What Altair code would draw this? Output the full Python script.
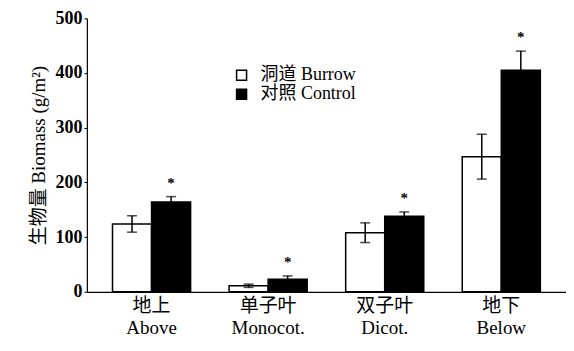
import altair as alt
import pandas as pd

categories = ["地上|Above", "单子叶|Monocot.", "双子叶|Dicot.", "地下|Below"]
series = ["洞道 Burrow", "对照 Control"]
burrow = [124, 11, 108, 247]
burrow_err = [15, 3, 18, 41]
control = [164, 23, 138, 405]
control_err = [10, 6, 8, 35]
significant = ["*", "*", "*", "*"]

rows = []
for i, c in enumerate(categories):
    rows.append({"cat": c, "grp": series[0], "v": burrow[i], "lo": burrow[i] - burrow_err[i],
                 "hi": burrow[i] + burrow_err[i], "sig": ""})
    rows.append({"cat": c, "grp": series[1], "v": control[i], "lo": control[i] - control_err[i],
                 "hi": control[i] + control_err[i], "sig": significant[i]})
df = pd.DataFrame(rows)

FONT = "Liberation Serif, Times New Roman, Noto Sans CJK SC"

x = alt.X("cat:N", sort=categories, title=None,
          scale=alt.Scale(paddingInner=0.33, paddingOuter=0.22),
          axis=alt.Axis(labelExpr="split(datum.label, '|')", labelAngle=0, ticks=False,
                        labelFont=FONT, labelFontSize=19, labelColor="black",
                        labelLineHeight=22, labelPadding=5, domainColor="black",
                        domainWidth=1.2))
xo = alt.XOffset("grp:N", sort=series, scale=alt.Scale(paddingInner=0, paddingOuter=0))
y = alt.Y("v:Q", title="生物量 Biomass (g/m²)",
          scale=alt.Scale(domain=[0, 500], nice=False),
          axis=alt.Axis(values=[0, 100, 200, 300, 400, 500], grid=False, tickSize=3,
                        tickColor="black", domainColor="black", domainWidth=1.2,
                        labelFont=FONT, labelFontSize=18, labelFontWeight="bold",
                        labelColor="black", labelPadding=2, titleFont=FONT,
                        titleFontSize=19, titleFontWeight="normal", titleColor="black",
                        titlePadding=6))

color = alt.Color("grp:N", sort=series,
                  scale=alt.Scale(domain=series, range=["white", "black"]),
                  legend=alt.Legend(title=None, orient="none", legendX=146, legendY=48,
                                    symbolType="square", symbolSize=100,
                                    symbolStrokeColor="black", symbolStrokeWidth=1.5,
                                    labelFont=FONT, labelFontSize=18, labelColor="black",
                                    rowPadding=1, labelOffset=10))

base = alt.Chart(df)
bars = base.mark_bar(stroke="black", strokeWidth=1.5).encode(x=x, xOffset=xo, y=y, color=color)
rules = base.mark_rule(color="black", strokeWidth=1.5).encode(
    x=alt.X("cat:N", sort=categories), xOffset=xo, y="lo:Q", y2="hi:Q")
cap_hi = base.mark_tick(color="black", thickness=1.5, size=10).encode(
    x=alt.X("cat:N", sort=categories), xOffset=xo, y="hi:Q")
cap_lo = base.mark_tick(color="black", thickness=1.5, size=10).encode(
    x=alt.X("cat:N", sort=categories), xOffset=xo, y="lo:Q")
stars = base.mark_text(font=FONT, fontSize=15, fontWeight="bold", dy=-6, baseline="bottom",
                       color="black").encode(
    x=alt.X("cat:N", sort=categories), xOffset=xo, y="hi:Q", text="sig:N")

chart = alt.layer(bars, rules, cap_hi, cap_lo, stars).properties(
    width=480, height=274,
    autosize=alt.AutoSizeParams(type="none"),
    padding={"left": 79, "top": 10, "right": 0, "bottom": 50},
    background="white",
).configure_view(stroke=None)

chart.save("out.html", embed_options={"renderer": "svg", "actions": False})
